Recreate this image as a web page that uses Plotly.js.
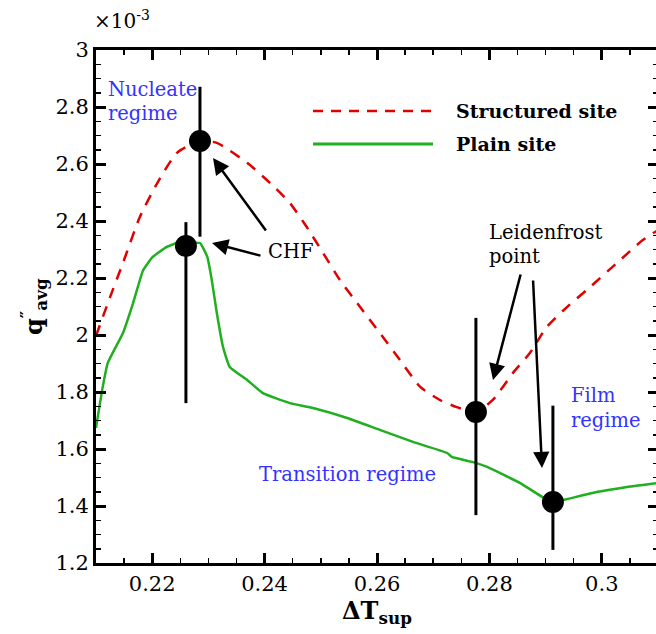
<!DOCTYPE html>
<html>
<head>
<meta charset="utf-8">
<script src="https://cdn.plot.ly/plotly-3.0.1.min.js"></script>
<style>
html,body{margin:0;padding:0;overflow:hidden;background:#fff;}
#chart{width:658px;height:634px;}
</style>
</head>
<body>
<div id="chart"></div>
<script>
// ---- data (y in units of 1e-3) ----
const structuredX = [0.2100,0.2125,0.2148,0.2178,0.2209,0.2244,0.2285,0.2315,0.2369,0.2410,0.2445,0.2475,0.2504,0.2534,0.2570,0.2605,0.2641,0.2677,0.2712,0.2742,0.2776,0.2806,0.2842,0.2872,0.2902,0.2938,0.2979,0.3027,0.3073,0.3100];
const structuredY = [1.997,2.133,2.253,2.414,2.533,2.639,2.681,2.674,2.604,2.533,2.463,2.379,2.288,2.193,2.098,2.007,1.912,1.818,1.772,1.747,1.730,1.772,1.867,1.937,2.028,2.098,2.168,2.253,2.333,2.368];

const plainX = [0.2100,0.2112,0.2121,0.2148,0.2166,0.2184,0.2201,0.2226,0.2249,0.2267,0.2285,0.2298,0.2306,0.2315,0.2326,0.2338,0.2369,0.2397,0.2445,0.2486,0.2547,0.2605,0.2664,0.2725,0.2733,0.2771,0.2796,0.2854,0.2894,0.2913,0.2931,0.2991,0.3045,0.3100];
const plainY = [1.674,1.818,1.902,2.007,2.112,2.228,2.274,2.309,2.326,2.323,2.323,2.274,2.193,2.077,1.958,1.888,1.842,1.796,1.761,1.744,1.709,1.667,1.625,1.586,1.572,1.554,1.537,1.481,1.432,1.414,1.421,1.449,1.467,1.481];

const pointX = [0.2285,0.2260,0.2776,0.2913];
const pointY = [2.681,2.312,1.730,1.414];
const pointErrUp = [2.871,2.396,2.060,1.752];
const pointErrLow = [2.345,1.761,1.368,1.246];

const xTickVals = [0.22,0.24,0.26,0.28,0.30];
const xTickText = ['0.22','0.24','0.26','0.28','0.3'];
const yTickVals = [1.2,1.4,1.6,1.8,2.0,2.2,2.4,2.6,2.8,3.0];
const yTickText = ['1.2','1.4','1.6','1.8','2','2.2','2.4','2.6','2.8','3'];

// arrows: tip (data) and tail offset (px)
const arrowTipX = [0.23082,0.23064,0.28064,0.28936];
const arrowTipY = [2.6211,2.3228,1.8421,1.5333];
const arrowAx = [54,50,28,-9];
const arrowAy = [74,13,-107,-189];

// ---- layout geometry ----
const W = 658, H = 634, L = 96, R = 0, T = 50, B = 71;
const PW = W - L - R, PH = H - T - B;
const px = v => (v - L) / PW;
const py = v => (H - B - v) / PH;

const serif = 'DejaVu Serif';
const blue = '#3333ff';
const fs = 19.5;

const errUp = pointErrUp.map((v,i) => v - pointY[i]);
const errLow = pointErrLow.map((v,i) => pointY[i] - v);

const traces = [
  {x: structuredX, y: structuredY, mode:'lines', line:{color:'#e00000', width:2.5, dash:'11px,9px', shape:'spline', smoothing:0.6}, showlegend:false, hoverinfo:'skip'},
  {x: plainX, y: plainY, mode:'lines', line:{color:'#1faf1f', width:2.5, shape:'spline', smoothing:0.4}, showlegend:false, hoverinfo:'skip'},
  {x: pointX, y: pointY, mode:'markers', marker:{color:'#000', size:22},
   error_y:{type:'data', symmetric:false, array:errUp, arrayminus:errLow, color:'#000', thickness:3, width:0},
   showlegend:false, hoverinfo:'skip'}
];

function txt(text, x, y, opts) {
  return Object.assign({text:text, xref:'paper', yref:'paper', x:px(x), y:py(y), showarrow:false,
    xanchor:'left', yanchor:'middle', font:{family:serif, size:fs, color:'#000'}}, opts||{});
}
const blueFont = {family:serif, size:fs, color:blue};

const annotations = [
  txt('Nucleate', 106, 89, {font:blueFont}),
  txt('regime', 106, 113, {font:blueFont}),
  txt('CHF', 266, 251),
  txt('Leidenfrost', 487, 232),
  txt('point', 487, 256),
  txt('Transition regime', 257, 474, {font:blueFont}),
  txt('Film', 569, 395, {font:blueFont}),
  txt('regime', 569, 420, {font:blueFont}),
  txt('<b>Structured site</b>', 454, 111, {font:{family:serif, size:19, color:'#000'}}),
  txt('<b>Plain site</b>', 454, 144, {font:{family:serif, size:19, color:'#000'}}),
  txt('×10<sup>-3</sup>', 92, 20, {font:{family:serif,size:20,color:'#000'}}),
  txt('<b>ΔT<sub>sup</sub></b>', 377, 612, {xanchor:'center', font:{family:serif,size:24,color:'#000'}}),
  txt('<b>q<sup>″</sup><sub>avg</sub></b>', 33, 307, {xanchor:'center', textangle:-90, font:{family:serif,size:24,color:'#000'}})
];
for (let i = 0; i < arrowTipX.length; i++) {
  annotations.push({x:arrowTipX[i], y:arrowTipY[i], xref:'x', yref:'y', text:'', showarrow:true,
    ax:arrowAx[i], ay:arrowAy[i], arrowhead:2, arrowsize:1.3, arrowwidth:2.5, arrowcolor:'#000', standoff:0});
}

const shapes = [
  {type:'line', xref:'paper', yref:'paper', x0:px(313), x1:px(433), y0:py(111), y1:py(111), line:{color:'#e00000', width:2.5, dash:'10px,8px'}},
  {type:'line', xref:'paper', yref:'paper', x0:px(313), x1:px(433), y0:py(144), y1:py(144), line:{color:'#1faf1f', width:3}}
];

const axisCommon = {
  showline:true, linewidth:3, linecolor:'#000', mirror:'allticks',
  ticks:'inside', ticklen:10, tickwidth:3, tickcolor:'#000',
  showgrid:false, zeroline:false,
  tickfont:{family:serif, size:21, color:'#000'}
};

const layout = {
  width:W, height:H,
  margin:{l:L, r:R, t:T, b:B, pad:0},
  paper_bgcolor:'#fff', plot_bgcolor:'#fff',
  showlegend:false,
  font:{family:serif},
  xaxis: Object.assign({}, axisCommon, {range:[0.21,0.31], tickvals:xTickVals, ticktext:xTickText,
    minor:{dtick:0.005, tick0:0, ticks:'inside', ticklen:5, tickwidth:1.5, tickcolor:'#000'}}),
  yaxis: Object.assign({}, axisCommon, {range:[1.2,3.0], tickvals:yTickVals, ticktext:yTickText,
    minor:{dtick:0.05, tick0:0, ticks:'inside', ticklen:5, tickwidth:1.5, tickcolor:'#000'}}),
  annotations: annotations,
  shapes: shapes
};

Plotly.newPlot('chart', traces, layout, {displayModeBar:false, staticPlot:true});
</script>
</body>
</html>
